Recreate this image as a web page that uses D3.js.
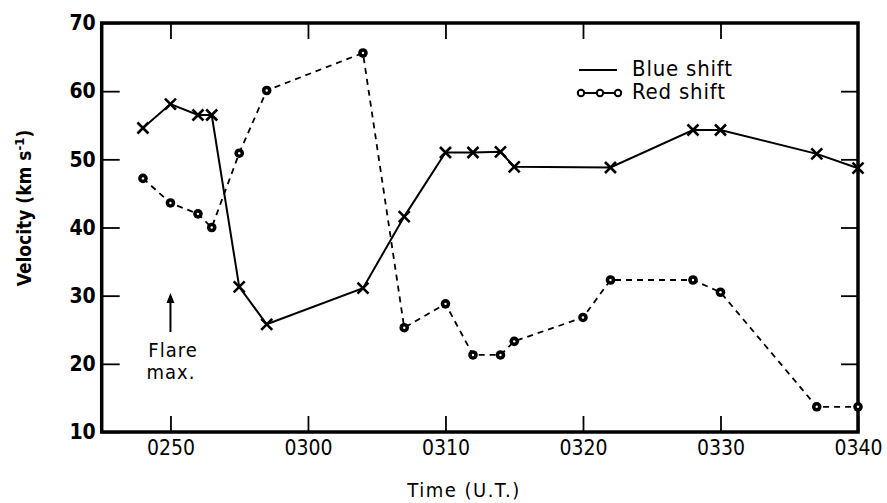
<!DOCTYPE html>
<html>
<head>
<meta charset="utf-8">
<script src="https://cdn.jsdelivr.net/npm/d3@7"></script>
<style>
  body { margin: 0; background: #fff; }
  text { font-family: "DejaVu Sans Condensed", "DejaVu Sans", sans-serif; fill: #000; }
</style>
</head>
<body>
<div id="chart"></div>
<script>
// times (U.T., hhmm)
var blueTimes = ["0248","0250","0252","0253","0255","0257","0304","0307","0310","0312","0314","0315","0322","0328","0330","0337","0340"];
var blueValues = [54.6, 58.1, 56.5, 56.5, 31.3, 25.8, 31.1, 41.6, 51.0, 51.0, 51.1, 48.9, 48.8, 54.3, 54.3, 50.8, 48.7];

var redTimes = ["0248","0250","0252","0253","0255","0257","0304","0307","0310","0312","0314","0315","0320","0322","0328","0330","0337","0340"];
var redValues = [47.2, 43.6, 42.0, 40.0, 50.9, 60.1, 65.6, 25.3, 28.8, 21.3, 21.3, 23.3, 26.8, 32.3, 32.3, 30.5, 13.7, 13.7];

var xTickLabels = ["0250","0300","0310","0320","0330","0340"];
var yTicks = [10, 20, 30, 40, 50, 60, 70];

var width = 887, height = 503;
var plotL = 101.7, plotR = 858, plotT = 23, plotB = 432;

function mins(s) { return +s.slice(0, 2) * 60 + +s.slice(2); }

var x = d3.scaleLinear().domain([mins("0245"), mins("0340")]).range([plotL, plotR]);
var y = d3.scaleLinear().domain([10, 70]).range([plotB, plotT]);

var svg = d3.select("#chart").append("svg")
  .attr("width", width)
  .attr("height", height);

// ---- axes (ticks point inward on all four sides)
var xTicks = xTickLabels.map(mins);

svg.append("g")
  .attr("transform", "translate(0," + plotB + ")")
  .call(d3.axisBottom(x).tickValues(xTicks).tickSize(-16).tickPadding(23)
    .tickFormat(function(d, i) { return xTickLabels[i]; }))
  .call(function(g) {
    g.select(".domain").remove();
    g.selectAll("line").attr("stroke-width", 1.8);
    g.selectAll("text").attr("font-size", 21).attr("dy", 0);
  });

svg.append("g")
  .attr("transform", "translate(0," + plotT + ")")
  .call(d3.axisTop(x).tickValues(xTicks.slice(0, -1)).tickSize(-16).tickFormat(""))
  .call(function(g) {
    g.select(".domain").remove();
    g.selectAll("line").attr("stroke-width", 1.8);
  });

svg.append("g")
  .attr("transform", "translate(" + plotL + ",0)")
  .call(d3.axisLeft(y).tickValues(yTicks).tickSize(-18).tickPadding(6))
  .call(function(g) {
    g.select(".domain").remove();
    g.selectAll("line").attr("stroke-width", 1.8);
    g.selectAll("text").attr("font-size", 21).attr("font-weight", "bold");
  });

svg.append("g")
  .attr("transform", "translate(" + plotR + ",0)")
  .call(d3.axisRight(y).tickValues(yTicks.slice(1, -1)).tickSize(-17).tickFormat(""))
  .call(function(g) {
    g.select(".domain").remove();
    g.selectAll("line").attr("stroke-width", 1.8);
  });

// frame
svg.append("rect")
  .attr("x", plotL).attr("y", plotT)
  .attr("width", plotR - plotL).attr("height", plotB - plotT)
  .attr("fill", "none").attr("stroke", "#000").attr("stroke-width", 3.5);

// ---- series
var blue = blueTimes.map(function(t, i) { return [mins(t), blueValues[i]]; });
var red = redTimes.map(function(t, i) { return [mins(t), redValues[i]]; });

var line = d3.line().x(function(d) { return x(d[0]); }).y(function(d) { return y(d[1]); });

svg.append("path")
  .datum(red)
  .attr("d", line)
  .attr("fill", "none").attr("stroke", "#000").attr("stroke-width", 1.8)
  .attr("stroke-dasharray", "6,5");

svg.append("path")
  .datum(blue)
  .attr("d", line)
  .attr("fill", "none").attr("stroke", "#000").attr("stroke-width", 2);

// crosses for blue shift
svg.selectAll(".cross")
  .data(blue)
  .enter()
  .append("path")
  .attr("class", "cross")
  .attr("transform", function(d) { return "translate(" + x(d[0]) + "," + y(d[1]) + ")"; })
  .attr("d", "M-5.5,-5.5L5.5,5.5M-5.5,5.5L5.5,-5.5")
  .attr("stroke", "#000").attr("stroke-width", 2.6);

// circles for red shift
var dots = svg.selectAll(".dot")
  .data(red)
  .enter()
  .append("g")
  .attr("class", "dot")
  .attr("transform", function(d) { return "translate(" + x(d[0]) + "," + y(d[1]) + ")"; });
dots.append("circle").attr("r", 4.8).attr("fill", "#000");
dots.append("circle").attr("r", 1.2).attr("fill", "#fff");

// ---- legend
svg.append("line")
  .attr("x1", 579).attr("x2", 617).attr("y1", 70).attr("y2", 70)
  .attr("stroke", "#000").attr("stroke-width", 1.8);
svg.append("text")
  .attr("x", 632).attr("y", 76)
  .attr("font-size", 22).attr("letter-spacing", 0.8)
  .text("Blue shift");

svg.append("line")
  .attr("x1", 580).attr("x2", 620).attr("y1", 93).attr("y2", 93)
  .attr("stroke", "#000").attr("stroke-width", 1.8);
svg.selectAll(".legdot")
  .data([581, 600, 618])
  .enter()
  .append("circle")
  .attr("cx", function(d) { return d; }).attr("cy", 93).attr("r", 3.2)
  .attr("fill", "#fff").attr("stroke", "#000").attr("stroke-width", 2);
svg.append("text")
  .attr("x", 632).attr("y", 99)
  .attr("font-size", 22).attr("letter-spacing", 0.8)
  .text("Red  shift");

// ---- flare max annotation
var fx = x(mins("0250"));
svg.append("line")
  .attr("x1", fx).attr("x2", fx).attr("y1", 296).attr("y2", 332)
  .attr("stroke", "#000").attr("stroke-width", 2);
svg.append("path")
  .attr("d", "M" + (fx - 4) + ",303L" + fx + ",293L" + (fx + 4) + ",303Z")
  .attr("fill", "#000");
svg.append("text")
  .attr("x", 173).attr("y", 357).attr("text-anchor", "middle")
  .attr("font-size", 20).attr("letter-spacing", 1)
  .text("Flare");
svg.append("text")
  .attr("x", 171).attr("y", 379).attr("text-anchor", "middle")
  .attr("font-size", 20).attr("letter-spacing", 1)
  .text("max.");

// ---- axis titles
svg.append("text")
  .attr("x", 464).attr("y", 497).attr("text-anchor", "middle")
  .attr("font-size", 20).attr("letter-spacing", 1.5)
  .text("Time (U.T.)");

var yt = svg.append("text")
  .attr("transform", "translate(31,208) rotate(-90)")
  .attr("text-anchor", "middle")
  .attr("font-size", 19).attr("font-weight", "bold");
yt.append("tspan").text("Velocity (km s");
yt.append("tspan").attr("font-size", 13).attr("dy", -7).text("-1");
yt.append("tspan").attr("dy", 7).text(")");
</script>
</body>
</html>
